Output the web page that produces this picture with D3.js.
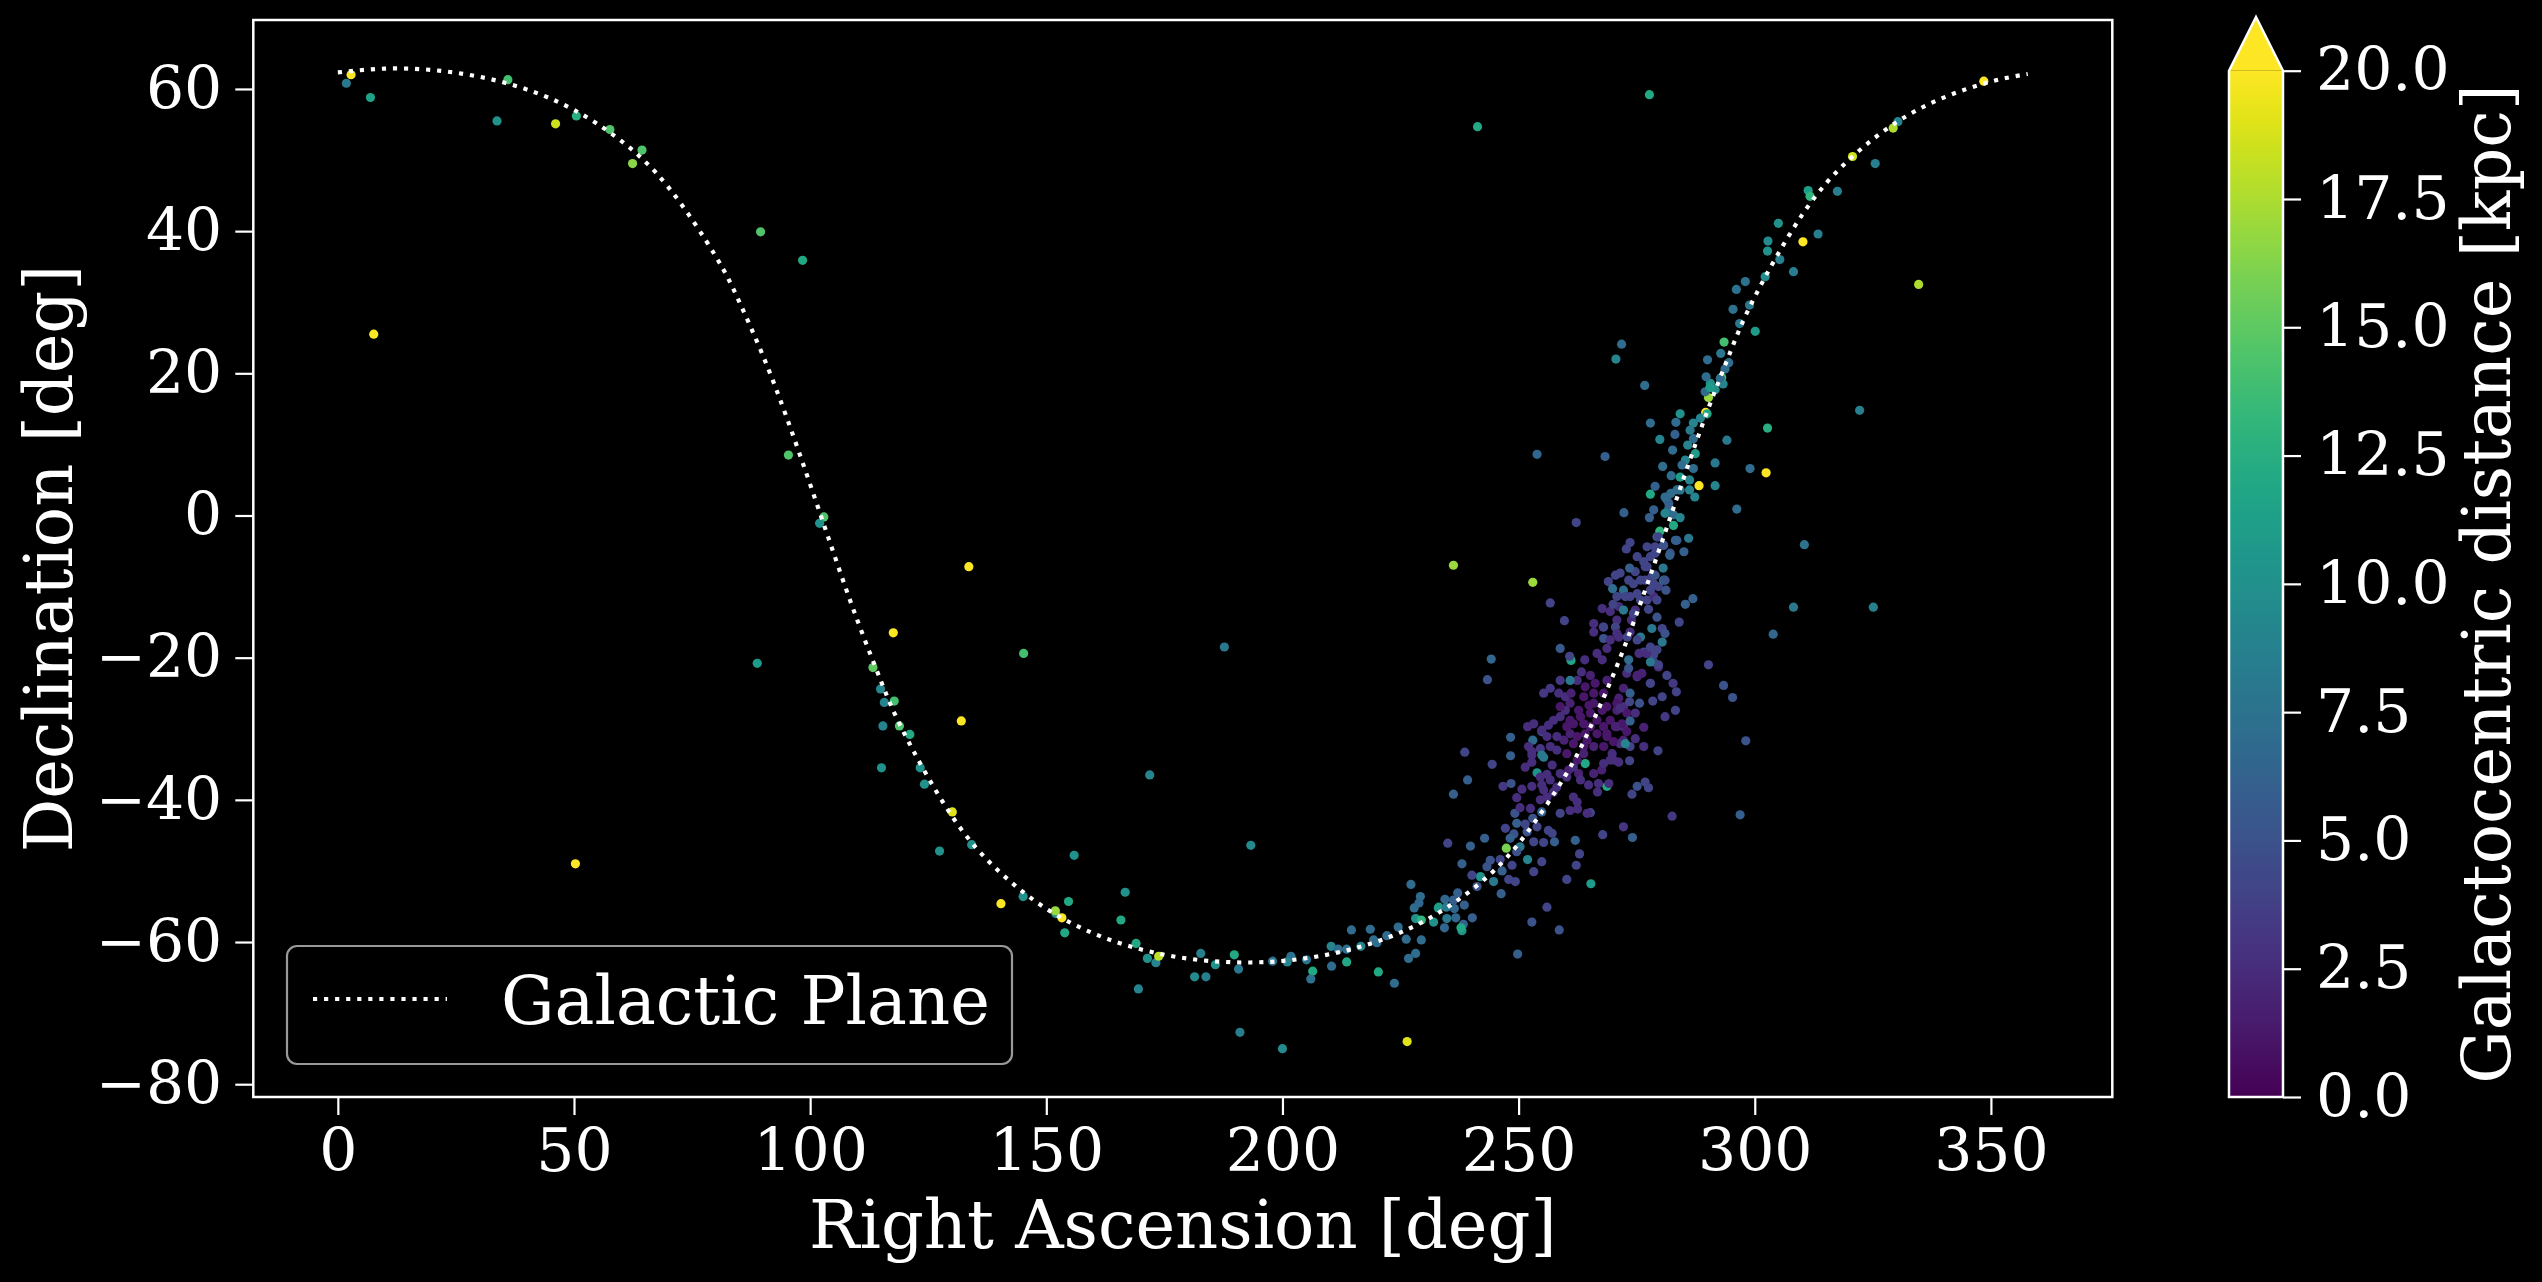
<!DOCTYPE html>
<html>
<head>
<meta charset="utf-8">
<script src="https://cdn.jsdelivr.net/npm/d3@7"></script>
<style>
  body { margin: 0; background: #000; }
  svg { display: block; }
</style>
</head>
<body>
<div id="chart"></div>
<script>
// tick values
var raTicks = [0, 50, 100, 150, 200, 250, 300, 350];
var decTicks = [-80, -60, -40, -20, 0, 20, 40, 60];
var distTicks = [0, 2.5, 5, 7.5, 10, 12.5, 15, 17.5, 20];

// galactic plane (b = 0)
var planeRA = [0, 10, 20, 30, 40, 50, 60, 70, 80, 85, 90, 95, 100, 105, 110, 115, 120, 130, 140, 150, 160, 170, 180,
	190, 200, 210, 220, 230, 240, 250, 260, 265, 270, 275, 280, 285, 290, 295, 300, 310, 320, 330, 340, 350, 357.8];
var planeDec = [62.33, 62.86, 62.66, 61.71, 59.93, 57.05, 52.69, 46.16, 36.46, 30.06, 22.49, 13.84, 4.38, -5.35, -14.75, -23.3, -30.75, -42.26, -50.07, -55.31, -58.79, -61.03, -62.33,
	-62.86, -62.66, -61.71, -59.93, -57.05, -52.69, -46.16, -36.46, -30.06, -22.49, -13.84, -4.38, 5.35, 14.75, 23.3, 30.75, 42.26, 50.07, 55.31, 58.79, 61.03, 62.11];

// clusters: [ra deg, dec deg, galactocentric distance kpc]
var haloPoints = [
	[2.8,62.0,22],[1.8,60.8,8],[6.9,58.8,11.5],[33.7,55.5,10],[46.1,55.1,18.5],[36.0,61.3,14],[50.5,56.2,12.5],
	[57.6,54.3,14.5],[64.4,51.4,14.5],[62.4,49.5,16.5],[7.6,25.5,22],[89.5,39.9,14.5],[98.4,35.9,12],[95.4,8.5,14.5],
	[102.9,-0.2,14.5],[102.0,-1.1,10],[133.6,-7.2,22],[117.6,-16.5,22],[88.8,-20.8,11],[113.3,-21.4,15],[114.9,-24.4,9],
	[115.7,-26.3,9],[117.8,-26.1,14],[132.0,-28.9,22],[115.4,-29.6,9],[118.9,-29.6,14.5],[121.1,-30.8,12],[115.1,-35.5,10],
	[123.3,-35.5,10],[124.2,-37.8,10],[130.1,-41.7,19],[127.4,-47.2,10],[134.2,-46.3,10],[140.4,-54.6,22],[50.3,-49.0,22],
	[145.1,-53.6,10],[155.9,-47.8,10],[154.7,-54.3,12],[152.0,-56.0,10],[151.9,-55.6,17],[153.3,-56.6,22],[153.9,-58.7,12],
	[166.7,-53.0,10],[165.8,-56.9,12],[169.0,-60.2,12],[171.4,-62.3,10],[173.2,-62.9,9],[173.8,-62.0,18],[169.5,-66.6,9],
	[182.7,-61.6,8.5],[181.4,-64.9,9.5],[183.8,-64.9,8.5],[185.8,-63.2,10],[189.8,-61.8,12],[190.7,-63.8,8],[193.3,-46.4,9.5],
	[191.0,-72.7,8.5],[200.0,-75.0,9.5],[145.2,-19.4,14],[171.9,-36.5,9],[187.7,-18.5,8],[241.3,54.7,12],[226.4,-74.0,19],
	[277.7,59.2,12],[348.5,61.1,21],[334.7,32.5,17.5],[322.2,14.8,8.5],[310.5,-4.1,7.5],[308.2,-12.9,8],[325.1,-12.9,8.5],
	[303.9,-16.7,6.5],[236.2,-7.0,17],[253.0,-9.4,17],[253.9,8.6,6.5],[302.4,6.0,21],[302.7,12.3,12.5],[299.0,6.6,7],[296.2,0.9,7]
];

var discPoints = [
	[197.9,-62.7,7.5],[201.8,-62.0,7.5],[201.0,-62.8,9],[205.1,-62.5,7.5],[206.4,-64.1,12],[206.0,-65.2,7.5],[210.3,-60.6,9],
	[210.4,-63.4,7],[211.8,-61.0,7],[213.6,-61.0,7],[213.6,-62.8,12],[214.6,-58.3,7],[216.6,-60.6,9],[218.6,-58.2,7],
	[219.3,-59.7,7],[220.0,-60.1,7],[220.3,-64.2,12],[222.1,-59.1,7],[223.7,-65.8,7],[224.5,-57.9,7],[226.2,-59.6,7],
	[228.2,-61.6,7],[226.7,-62.3,7],[229.4,-59.7,7],[228.2,-56.7,10],[229.4,-56.9,13],[227.2,-51.9,7],[229.2,-53.6,7],
	[227.9,-55.2,7],[228.9,-54.5,6.5],[233.0,-55.2,10],[234.4,-54.0,6.5],[234.3,-58.0,6.5],[236.4,-55.3,6.5],[236.7,-56.6,6.5],
	[238.5,-54.8,6],[238.3,-57.5,6],[240.2,-56.6,6],[238.0,-58.4,10],[238.0,-49.0,6],[239.8,-46.5,6],[242.8,-45.4,6],
	[235.0,-46.1,4],[232.0,-57.2,10],[233.1,-55.1,11],[234.7,-55.1,8],[234.8,-56.7,8],[237.1,-53.1,6],[237.8,-58.0,12],
	[236.2,-54.1,6],[239.2,-37.2,6],[236.2,-39.2,6],[238.6,-33.3,4],[244.4,-35.0,4],[248.3,-31.2,6],[248.3,-33.8,6],
	[246.7,-38.1,3.2],[248.4,-37.7,5],[244.2,-20.2,6.5],[243.4,-23.1,5],
	[249.2,-41.9,5],[249.6,-43.3,6],[251.4,-43.4,4],[253.0,-42.6,5],[254.9,-41.7,6],[253.9,-43.8,4],[251.8,-44.5,5],
	[247.2,-44.0,4],[249.0,-44.8,5],[248.2,-45.4,6],[250.3,-46.6,8],[249.6,-47.3,5],[247.4,-46.8,16],[251.9,-48.4,9],
	[248.6,-49.2,4],[246.5,-50.0,6],[247.9,-51.2,4],[249.3,-51.5,4],[246.1,-48.4,4],[244.0,-48.5,5],[243.3,-49.4,5],
	[241.9,-50.8,10],[240.1,-50.6,4],[244.7,-51.5,8],[241.2,-52.2,5],[246.3,-53.2,6],[253.2,-50.1,4],[254.9,-48.7,4],
	[256.0,-55.1,4],[252.8,-57.2,5],[258.6,-58.3,5],[249.8,-61.7,6],[265.3,-51.8,11],[260.2,-51.2,4],[262.2,-49.2,4],
	[262.9,-47.6,4],[262.0,-45.7,6],[257.6,-45.9,6],[257.1,-44.7,4],[256.3,-44.3,4],[255.3,-46.0,4],[253.2,-45.9,4],
	[267.8,-44.9,4],[274.1,-45.3,6],[272.2,-43.8,3],[296.9,-42.1,6],[282.5,-42.3,3.2]
];

var bulgePoints = [
	[251.9,-29.7,2.6],[253.0,-31.6,7],[254.9,-30.4,5],[251.4,-35.4,2.6],[252.8,-34.7,2.6],[253.9,-36.2,10],[254.6,-36.8,2.6],
	[256.0,-36.4,2.6],[256.7,-37.2,2.6],[254.9,-37.9,2.6],[252.8,-38.1,2.6],[250.7,-38.5,2.6],[249.6,-39.7,2.6],[250.3,-41.1,2.6],
	[252.5,-41.2,2.6],[254.6,-40.0,2.6],[256.0,-39.6,2.6],[257.4,-38.9,2.6],[258.1,-38.2,2.6],[265.2,-41.8,4],[258.8,-41.9,4],
	[262.5,-41.3,2.6],[262.4,-40.3,2.6],[261.6,-39.6,2.6],[266.7,-38.9,2.6],[268.7,-38.1,12],[274.0,-39.2,4],[275.1,-38.1,5],
	[276.8,-37.5,4],[277.5,-38.3,4],[279.5,-33.1,4],[273.5,-34.5,4],[269.4,-34.4,2.6],
	[290.2,-21.0,4],[293.4,-23.9,5],[295.3,-25.6,5],[298.1,-31.7,5],
	[256.7,-12.3,4],[259.7,-14.8,4],[258.8,-18.7,5.5],[261.1,-20.4,11.5],[260.8,-19.8,4],[264.0,-20.3,2.6],[266.6,-19.4,2.6],
	[267.7,-20.3,2.6],[268.7,-18.7,2.6],[268.0,-17.3,5],[265.9,-15.2,2.6],[267.9,-15.7,2.6],[265.9,-16.4,2.6],
	[272.9,-22.2,2.6],[275.1,-22.7,2.6],[276.1,-22.2,1.8],[277.9,-23.6,2.6],[279.6,-21.3,2.6],[278.6,-20.6,4],[281.4,-22.5,4],
	[272.2,-24.3,1.8],[271.2,-25.7,1.8],[270.8,-27.4,1.8],[276.5,-32.5,2.6],[272.2,-31.6,1.8],[268.7,-30.7,1.2],[268.0,-32.5,1.2],
	[269.8,-33.5,2.6],[271.2,-34.7,2.6],[267.6,-35.8,1.8],[265.9,-36.3,1.8],[266.9,-37.7,2.6],[264.8,-37.9,2.6],[269.1,-37.7,2.6],
	[264.1,-34.9,12],[254.9,-30.2,2.6],[256.3,-29.5,2.6],[257.4,-28.8,2.6],[258.8,-28.3,2.6],[259.9,-27.4,2.6],[260.9,-26.4,1.8],
	[262.7,-27.4,1.2],[263.8,-25.5,1.2],[264.1,-24.1,1.2],[262.4,-23.2,2.6],[260.9,-23.2,8],[258.8,-23.2,3.2],[256.7,-24.3,3.2],
	[255.3,-25.0,3.2],[258.5,-25.0,2.6],[259.9,-25.5,2.6],[261.1,-25.0,1.8],[252.1,-32.5,2.6],[252.8,-33.7,2.6],[255.3,-34.0,8],
	[257.1,-35.1,2.6],[258.8,-36.3,2.6],[260.6,-35.8,1.8],[262.7,-36.3,1.8],[262.4,-34.4,1.2],[260.2,-33.5,1.2],[258.1,-33.0,2.6],
	[256.7,-32.5,2.6],[254.6,-32.8,3.2],[264.1,-30.7,1.2],[265.2,-29.7,1.2],[263.8,-29.3,1.2],[266.6,-28.8,1.2],[267.7,-27.4,1.2],
	[265.9,-26.4,1.2],[268.0,-25.0,1.2],[266.2,-23.6,1.2],[268.7,-23.2,1.8],[265.2,-22.5,1.8],[263.3,-22.0,2.6],[269.4,-28.8,1.2],
	[268.7,-26.9,1.2],[270.8,-29.7,2.6],[272.2,-29.7,2.6],[263.8,-32.5,1.2],[265.9,-32.5,1.8],[266.6,-30.7,1.2],[263.8,-33.5,1.8],
	[260.9,-30.7,1.8],[260.2,-29.7,1.2],[262.4,-31.1,1.2],[259.6,-31.6,1.8],[258.1,-31.1,2.6],[263.1,-28.3,1.2],[260.9,-28.8,1.2],
	[265.2,-27.8,1.2],[265.9,-25.0,1.2],[272.2,-26.9,2.6],[274.7,-27.8,2.6],
	[258.8,-26.9,1.2],[264.9,-26.7,1.2],[270.8,-26.4,1.2],[272.9,-27.8,1.2],[271.9,-29.3,1.2],[268.0,-29.7,1.2],[261.6,-29.3,1.2],
	[261.6,-32.1,1.2],[264.5,-31.6,1.2],[268.7,-31.1,1.2],[271.5,-32.1,2.6],[270.1,-34.4,2.6],[268.0,-34.9,2.6],[261.6,-35.4,2.6],
	[260.2,-36.8,2.6],[263.1,-37.2,2.6],[264.5,-41.9,2.6],[260.9,-41.5,2.6],[255.3,-38.6,2.6],[252.8,-33.2,2.6],[254.9,-33.7,8],
	[256.0,-31.1,2.6],[253.2,-29.3,2.6],[272.9,-30.4,1.2],
	[276.5,-19.2,4],[278.6,-19.6,4],[279.6,-21.0,4],[277.9,-20.6,8],[273.3,-21.5,5],[275.1,-22.5,1.8],[277.9,-23.6,4],
	[282.7,-23.6,3.2],[283.4,-24.8,4],[280.4,-25.5,4],[278.4,-26.1,4],[275.6,-26.4,5],[273.6,-25.0,6],[273.5,-26.2,4],
	[271.5,-27.1,2.6],[283.2,-27.4,4],[281.0,-28.3,3.2],[273.6,-28.9,6],[276.5,-29.8,1.8],[274.7,-31.4,2.6],[273.6,-32.5,4],
	[272.6,-32.1,9],[270.5,-29.7,1.8],[270.1,-31.8,1.2],
	[273.3,-20.3,7],[275.5,-19.4,2.6],[277.1,-19.4,2.6],[277.9,-18.5,4],[279.3,-18.9,4],[273.6,-16.4,2.6],[271.2,-17.1,2.6],
	[273.9,-14.7,2.6],[270.8,-14.7,2.6],[269.4,-13.5,2.6],[271.2,-12.8,2.6],[274.7,-13.3,2.6]
];

var northPoints = [
	[262.2,-1.0,4],[270.8,-11.4,4],[270.5,-8.4,4],
	[277.2,-11.9,4],[278.6,-11.4,2.6],[277.9,-10.5,4],[279.6,-10.0,4],[280.7,-9.1,7],[278.2,-8.6,4],[276.8,-9.1,4],
	[275.1,-11.0,4],[273.6,-11.4,4],[272.2,-10.5,7],[274.3,-9.6,4],[275.8,-9.1,4],[274.7,-7.9,4],[276.8,-7.2,4],
	[277.9,-5.8,4],[278.9,-4.4,4],[280.7,-4.2,4],[282.1,-5.3,5],[277.2,-4.4,4],[279.3,-3.0,6],[283.5,-3.5,6],
	[279.9,-2.2,13],[283.2,-3.5,6],[286.0,-3.2,8],[285.0,-5.1,6],[282.0,-5.6,6],[280.7,-4.2,5],[278.9,-5.3,4],[279.6,-3.0,4],
	[273.6,-3.8,4],[272.8,-4.7,4],[275.1,-5.8,4],[276.5,-6.5,4],[277.2,-7.2,4],[280.6,-7.4,8],[278.9,-8.4,5],[278.6,-9.6,4],
	[281.0,-9.1,5],[281.2,-10.5,5],[279.3,-11.9,4],[273.3,-9.1,4],[269.0,-9.3,4],[271.5,-8.1,4],[269.9,-10.3,7],[273.5,-7.4,6],
	[285.3,-12.5,6],[286.9,-11.7,6],[284.0,-15.0,4],[277.5,-13.2,4],[275.8,-11.9,4],[272.6,-11.4,4],[270.0,-12.5,4],
	[267.7,-13.1,2.6],[268.0,-15.7,4],[270.5,-15.7,4],[272.2,-13.3,8],[274.3,-13.8,4],[278.2,-15.9,8],[279.3,-14.3,5],
	[280.4,-15.9,4],[281.0,-16.6,5],[280.4,-17.8,8],[275.8,-17.1,8],[275.1,-17.5,4],[273.0,-17.1,4],[270.8,-16.6,2.6],[269.4,-17.5,2.6],
	[281.8,1.0,7],[282.8,0.1,7],[281.4,2.2,7],[282.2,3.1,7],[284.2,3.6,8],[286.2,3.6,9],
	[276.7,18.3,7],[290.6,18.6,10],[293.3,18.5,9],[291.6,17.7,10],[290.2,16.6,17],[289.6,14.5,21],[289.9,14.3,12],[284.2,14.3,10],
	[277.9,13.0,7],[283.3,13.1,7],[283.1,11.4,6],[279.9,10.7,9],[282.6,9.2,7],[280.5,6.9,7],[282.3,5.6,7],[278.9,4.1,6],
	[272.3,0.4,6],[268.3,8.3,6],[288.5,13.7,9],[287.0,13.0,9],[286.3,12.0,8],[287.0,10.8,7],[285.8,9.9,9],[287.4,8.7,11],
	[285.3,7.8,9],[284.6,7.1,7],[287.0,6.6,7],[284.2,5.4,11],[286.2,5.0,9],[287.3,2.6,9],[283.5,3.6,7],[281.8,1.7,6],
	[281.0,2.6,7],[278.6,0.8,6],[277.7,-0.3,6],[281.0,0.3,9],[284.2,-0.3,9],[282.8,-1.4,12],[277.9,3.0,12],[288.2,4.2,21],
	[291.6,4.2,9],[291.6,7.4,8],[294.1,10.6,8],
	[330.3,55.4,9],[329.3,54.5,17.5],[320.7,50.5,18.5],[325.5,49.5,8.5],[317.5,45.6,8.5],[311.3,45.7,11],[311.7,44.9,13],
	[313.4,39.6,8.5],[310.2,38.5,21],[305.0,41.1,10],[302.8,38.6,9.5],[302.7,37.2,10],[305.3,36.0,8.5],[308.2,34.3,8.5],
	[302.2,33.6,9.5],[298.0,32.9,7.5],[296.1,31.8,7.5],[298.9,29.6,8],[295.4,29.0,7.5],[296.8,27.0,8],[300.1,25.9,11],
	[293.5,24.4,14],[271.8,24.1,7],[270.6,22.0,9],[290.0,21.9,7],[292.8,22.8,8],[294.5,21.5,7],[293.7,20.6,7],
	[289.7,19.5,7],[293.0,19.4,14],[292.7,19.3,7],[289.5,17.4,7],[290.5,18.0,11]
];

var W = 2542, H = 1282;
var plot = {left: 253.3, right: 2112.3, top: 20, bottom: 1097};
var cbar = {left: 2229, right: 2283, top: 70.7, bottom: 1097, tip: 17};
var serif = "'DejaVu Serif', serif";

var svg = d3.select("#chart")
	.append("svg")
	.attr("width", W)
	.attr("height", H)
	.style("background", "#000");

var x = d3.scaleLinear().domain([-17.9, 375.7]).range([plot.left, plot.right]);
var y = d3.scaleLinear().domain([-81.8, 69.7]).range([plot.bottom, plot.top]);
var color = d3.scaleSequential(d3.interpolateViridis).domain([0, 20]).clamp(true);

// scatter
var allPoints = haloPoints.concat(discPoints, bulgePoints, northPoints);
svg.append("g")
	.selectAll("circle")
	.data(allPoints)
	.enter()
	.append("circle")
	.attr("cx", function(d){ return x(d[0]); })
	.attr("cy", function(d){ return y(d[1]); })
	.attr("r", 4.6)
	.attr("fill", function(d){ return color(d[2]); });

// galactic plane, dotted
var plane = planeRA.map(function(ra, i){ return [ra, planeDec[i]]; });
var planeLine = d3.line()
	.x(function(d){ return x(d[0]); })
	.y(function(d){ return y(d[1]); })
	.curve(d3.curveNatural);

svg.append("path")
	.datum(plane)
	.attr("d", planeLine)
	.attr("fill", "none")
	.attr("stroke", "#fff")
	.attr("stroke-width", 4.17)
	.attr("stroke-dasharray", "4.17 6.88");

// axes
function styleAxis(g, size) {
	g.select(".domain").remove();
	g.attr("font-family", serif).attr("font-size", size);
	g.selectAll("line").attr("stroke", "#fff").attr("stroke-width", 2.2);
	g.selectAll("text").attr("fill", "#fff");
}

var xAxis = svg.append("g")
	.attr("transform", "translate(0," + plot.bottom + ")")
	.call(d3.axisBottom(x).tickValues(raTicks).tickSize(18).tickPadding(13).tickFormat(d3.format("d")));
styleAxis(xAxis, 60);

var yAxis = svg.append("g")
	.attr("transform", "translate(" + plot.left + ",0)")
	.call(d3.axisLeft(y).tickValues(decTicks).tickSize(18).tickPadding(13).tickFormat(d3.format("d")));
styleAxis(yAxis, 60);

svg.append("rect")
	.attr("x", plot.left)
	.attr("y", plot.top)
	.attr("width", plot.right - plot.left)
	.attr("height", plot.bottom - plot.top)
	.attr("fill", "none")
	.attr("stroke", "#fff")
	.attr("stroke-width", 2.5);

svg.append("text")
	.text("Right Ascension [deg]")
	.attr("x", (plot.left + plot.right) / 2)
	.attr("y", 1248)
	.attr("text-anchor", "middle")
	.attr("font-family", serif)
	.attr("font-size", 67)
	.attr("fill", "#fff");

svg.append("text")
	.text("Declination [deg]")
	.attr("transform", "translate(72," + (plot.top + plot.bottom) / 2 + ") rotate(-90)")
	.attr("text-anchor", "middle")
	.attr("font-family", serif)
	.attr("font-size", 67)
	.attr("fill", "#fff");

// legend
var legend = svg.append("g");
legend.append("rect")
	.attr("x", 287).attr("y", 946)
	.attr("width", 725).attr("height", 118)
	.attr("rx", 10)
	.attr("fill", "#000")
	.attr("stroke", "#999")
	.attr("stroke-width", 2.2);
legend.append("line")
	.attr("x1", 313).attr("x2", 447)
	.attr("y1", 999).attr("y2", 999)
	.attr("stroke", "#fff")
	.attr("stroke-width", 4.17)
	.attr("stroke-dasharray", "4.17 6.88");
legend.append("text")
	.text("Galactic Plane")
	.attr("x", 501).attr("y", 1024)
	.attr("font-family", serif)
	.attr("font-size", 67)
	.attr("fill", "#fff");

// colorbar
var cy = d3.scaleLinear().domain([0, 20]).range([cbar.bottom, cbar.top]);
var grad = svg.append("defs")
	.append("linearGradient")
	.attr("id", "viridis")
	.attr("x1", 0).attr("y1", 1).attr("x2", 0).attr("y2", 0);
grad.selectAll("stop")
	.data(d3.range(41).map(function(i){ return i / 40; }))
	.enter()
	.append("stop")
	.attr("offset", function(d){ return d; })
	.attr("stop-color", function(d){ return d3.interpolateViridis(d); });

var cmid = (cbar.left + cbar.right) / 2;
svg.append("rect")
	.attr("x", cbar.left)
	.attr("y", cy(20))
	.attr("width", cbar.right - cbar.left)
	.attr("height", cy(0) - cy(20))
	.attr("fill", "url(#viridis)");
svg.append("path")
	.attr("d", "M" + cbar.left + "," + cy(20) + "L" + cmid + "," + cbar.tip + "L" + cbar.right + "," + cy(20) + "Z")
	.attr("fill", color(20));
svg.append("path")
	.attr("d", "M" + cbar.left + "," + cy(0) + "L" + cbar.left + "," + cy(20) + "L" + cmid + "," + cbar.tip +
		"L" + cbar.right + "," + cy(20) + "L" + cbar.right + "," + cy(0) + "Z")
	.attr("fill", "none")
	.attr("stroke", "#fff")
	.attr("stroke-width", 2.5);

var cAxis = svg.append("g")
	.attr("transform", "translate(" + cbar.right + ",0)")
	.call(d3.axisRight(cy).tickValues(distTicks).tickSize(18).tickPadding(15).tickFormat(d3.format(".1f")));
styleAxis(cAxis, 60);

svg.append("text")
	.text("Galactocentric distance [kpc]")
	.attr("transform", "translate(2510," + (cy(0) + cy(20)) / 2 + ") rotate(-90)")
	.attr("text-anchor", "middle")
	.attr("font-family", serif)
	.attr("font-size", 67)
	.attr("fill", "#fff");
</script>
</body>
</html>
